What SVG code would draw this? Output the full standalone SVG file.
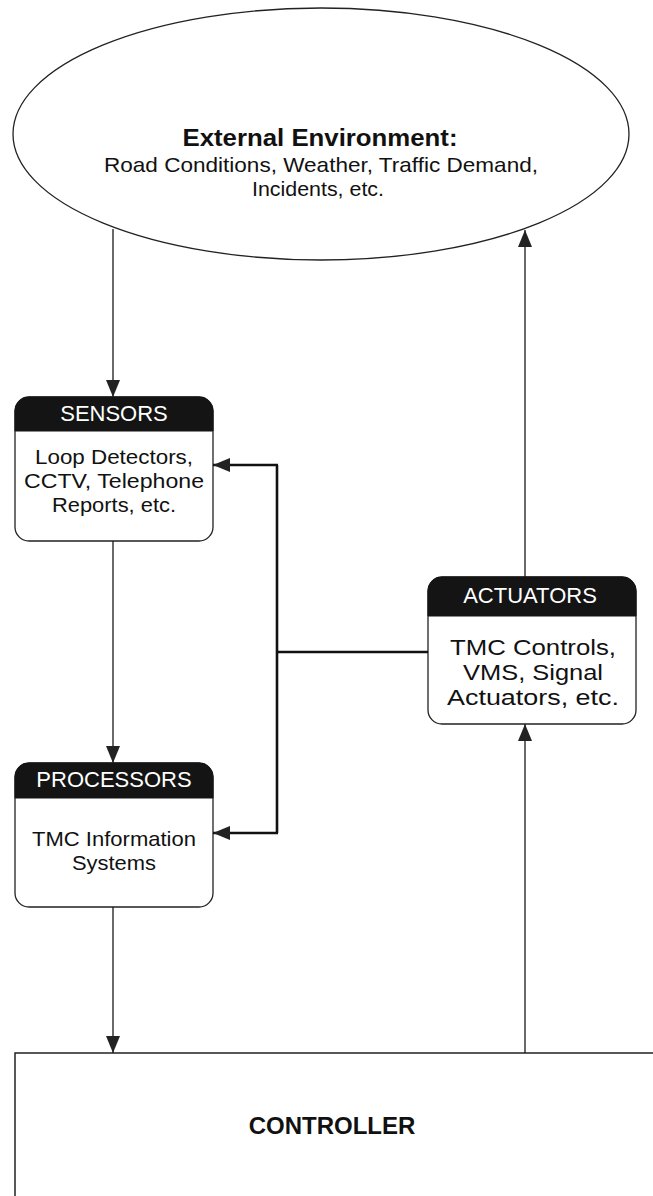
<svg xmlns="http://www.w3.org/2000/svg" width="653" height="1196" viewBox="0 0 653 1196">
<defs>
<style>
.txt{font-family:"Liberation Sans",Arial,sans-serif;fill:#111;text-anchor:middle;}
.body{font-size:21px;}
.act{font-size:22px;}
.hdr{font-size:22px;fill:#fff;}
.title{font-size:24px;font-weight:bold;}
.box{fill:#fff;stroke:#222;stroke-width:1.3;}
.head{fill:#141414;stroke:#141414;stroke-width:1;}
.ln{stroke:#1a1a1a;stroke-width:1.3;fill:none;}
.thick{stroke:#111;stroke-width:2.6;fill:none;}
</style>
<marker id="arr" markerUnits="userSpaceOnUse" markerWidth="18" markerHeight="16" refX="17" refY="8" orient="auto">
<path d="M0,1 L17,8 L0,15 z" fill="#222"/>
</marker>
</defs>
<rect width="653" height="1196" fill="#fff"/>

<g id="environment">
<ellipse cx="321" cy="134" rx="308" ry="126" fill="#fff" stroke="#222" stroke-width="1.3"/>
<text class="txt title" x="320" y="146" textLength="275" lengthAdjust="spacingAndGlyphs">External Environment:</text>
<text class="txt body" x="321" y="172" textLength="434" lengthAdjust="spacingAndGlyphs">Road Conditions, Weather, Traffic Demand,</text>
<text class="txt body" x="318" y="196" textLength="132" lengthAdjust="spacingAndGlyphs">Incidents, etc.</text>
</g>

<g id="sensors">
<rect class="box" x="15" y="397" width="198" height="144" rx="14"/>
<path class="head" d="M15,431 V411 A14,14 0 0 1 29,397 H199 A14,14 0 0 1 213,411 V431 Z"/>
<text class="txt hdr" x="114" y="421">SENSORS</text>
<text class="txt body" x="114" y="464" textLength="158" lengthAdjust="spacingAndGlyphs">Loop Detectors,</text>
<text class="txt body" x="114" y="488" textLength="180" lengthAdjust="spacingAndGlyphs">CCTV, Telephone</text>
<text class="txt body" x="114" y="512" textLength="124" lengthAdjust="spacingAndGlyphs">Reports, etc.</text>
</g>

<g id="processors">
<rect class="box" x="15" y="763" width="198" height="144" rx="14"/>
<path class="head" d="M15,798 V777 A14,14 0 0 1 29,763 H199 A14,14 0 0 1 213,777 V798 Z"/>
<text class="txt hdr" x="114" y="787">PROCESSORS</text>
<text class="txt body" x="114" y="846" textLength="164" lengthAdjust="spacingAndGlyphs">TMC Information</text>
<text class="txt body" x="114" y="870" textLength="84" lengthAdjust="spacingAndGlyphs">Systems</text>
</g>

<g id="actuators">
<rect class="box" x="428" y="577" width="208" height="147" rx="14"/>
<path class="head" d="M428,616 V591 A14,14 0 0 1 442,577 H622 A14,14 0 0 1 636,591 V616 Z"/>
<text class="txt hdr" x="530" y="603">ACTUATORS</text>
<text class="txt act" x="533" y="655" textLength="166" lengthAdjust="spacingAndGlyphs">TMC Controls,</text>
<text class="txt act" x="533" y="680" textLength="140" lengthAdjust="spacingAndGlyphs">VMS, Signal</text>
<text class="txt act" x="533" y="705" textLength="172" lengthAdjust="spacingAndGlyphs">Actuators, etc.</text>
</g>

<g id="controller">
<path d="M15,1196 V1053 H653" fill="none" stroke="#222" stroke-width="1.5"/>
<text class="txt" x="332" y="1134" style="font-size:24px;font-weight:bold">CONTROLLER</text>
</g>

<g id="connectors">
<line class="ln" x1="113" y1="229" x2="113" y2="397" marker-end="url(#arr)"/>
<line class="ln" x1="113" y1="541" x2="113" y2="763" marker-end="url(#arr)"/>
<line class="ln" x1="113" y1="907" x2="113" y2="1053" marker-end="url(#arr)"/>
<line class="ln" x1="525" y1="1053" x2="525" y2="724" marker-end="url(#arr)"/>
<line class="ln" x1="525" y1="577" x2="525" y2="230" marker-end="url(#arr)"/>
<line class="thick" x1="428" y1="652" x2="277" y2="652"/>
<line class="thick" x1="277" y1="465" x2="277" y2="833"/>
<polyline class="thick" points="278,465 213,465" marker-end="url(#arr)"/>
<polyline class="thick" points="278,833 213,833" marker-end="url(#arr)"/>
</g>
</svg>
